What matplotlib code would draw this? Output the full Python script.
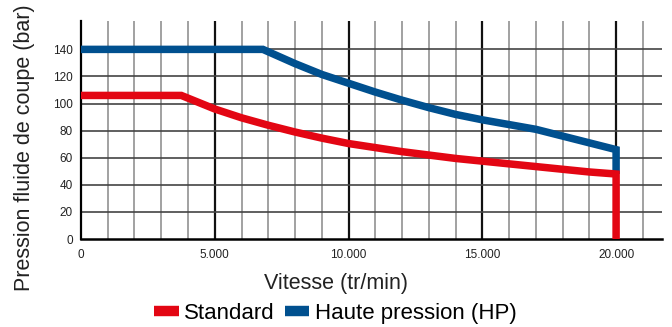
import numpy as np
import matplotlib
matplotlib.use('Agg')
import matplotlib.pyplot as plt
from matplotlib.ticker import FuncFormatter

plt.rcParams['font.family'] = ['Liberation Sans', 'DejaVu Sans']

# lecture des courbes sur le graphique
vit_std = [0, 3750, 5000, 6000, 7000, 8000, 9000, 10000, 11000, 12000, 13000,
           14000, 15000, 16000, 17000, 18000, 19000, 20000, 20000]
p_std = [106, 106, 96, 89.5, 84, 79, 74.5, 70.5, 67.5, 64.5, 62,
         59.5, 57.5, 55.5, 53.5, 51.5, 49.5, 48, 0]

vit_hp = [0, 6800, 8000, 9000, 10000, 11000, 12000, 13000, 14000, 15000,
          16000, 17000, 18000, 19000, 20000, 20000]
p_hp = [140, 140, 129.5, 121.5, 115, 108.5, 102.5, 97, 92, 88,
        84.5, 81, 76, 71, 66, 48]

legende = ['Standard', 'Haute pression (HP)']
rouge = '#e30613'
bleu = '#00508f'

fig = plt.figure(figsize=(6.72, 3.27), dpi=100)
ax = fig.add_axes([0.1205, 0.269, 0.864, 0.667])

# grille
for x in range(1000, 22000, 1000):
    if x % 5000 == 0:
        ax.axvline(x, color='#111111', lw=1.6, zorder=1)
    else:
        ax.axvline(x, color='#9a9a9a', lw=1.3, zorder=1)
for y in range(20, 160, 20):
    ax.axhline(y, color='#444444', lw=1.2, zorder=1)

ax.plot(vit_hp, p_hp, color=bleu, lw=5.4, solid_joinstyle='miter', solid_capstyle='butt', zorder=3)
ax.plot(vit_std, p_std, color=rouge, lw=5.4, solid_joinstyle='miter', solid_capstyle='butt', zorder=4)

ax.set_xlim(0, 21700)
ax.set_ylim(0, 161)
ax.set_xticks([0, 5000, 10000, 15000, 20000])
ax.xaxis.set_major_formatter(FuncFormatter(lambda v, p: f'{int(v):,}'.replace(',', '.')))
ax.set_yticks(range(0, 141, 20))
ax.tick_params(length=0, labelsize=8.5, colors='#222222')
ax.tick_params(axis='x', pad=7)
ax.tick_params(axis='y', pad=6)

for s in ['top', 'right']:
    ax.spines[s].set_visible(False)
ax.spines['left'].set_linewidth(1.6)
ax.spines['bottom'].set_linewidth(1.8)

fig.text(0.5, 1 - 284 / 327, 'Vitesse (tr/min)', fontsize=15.5, color='#222222',
         ha='center', va='center')
fig.text(0.036, 0.548, 'Pression fluide de coupe (bar)', rotation=90, fontsize=15.5,
         color='#222222', ha='center', va='center')

h1 = plt.Line2D([], [], color=rouge, lw=7.5, solid_capstyle='butt')
h2 = plt.Line2D([], [], color=bleu, lw=7.5, solid_capstyle='butt')
fig.legend([h1, h2], legende, loc='center', bbox_to_anchor=(0.499, 0.042), ncol=2,
           frameon=False, fontsize=16, handlelength=1.1, handletextpad=0.25, columnspacing=0.45)

fig.savefig('out.png', dpi=100)
